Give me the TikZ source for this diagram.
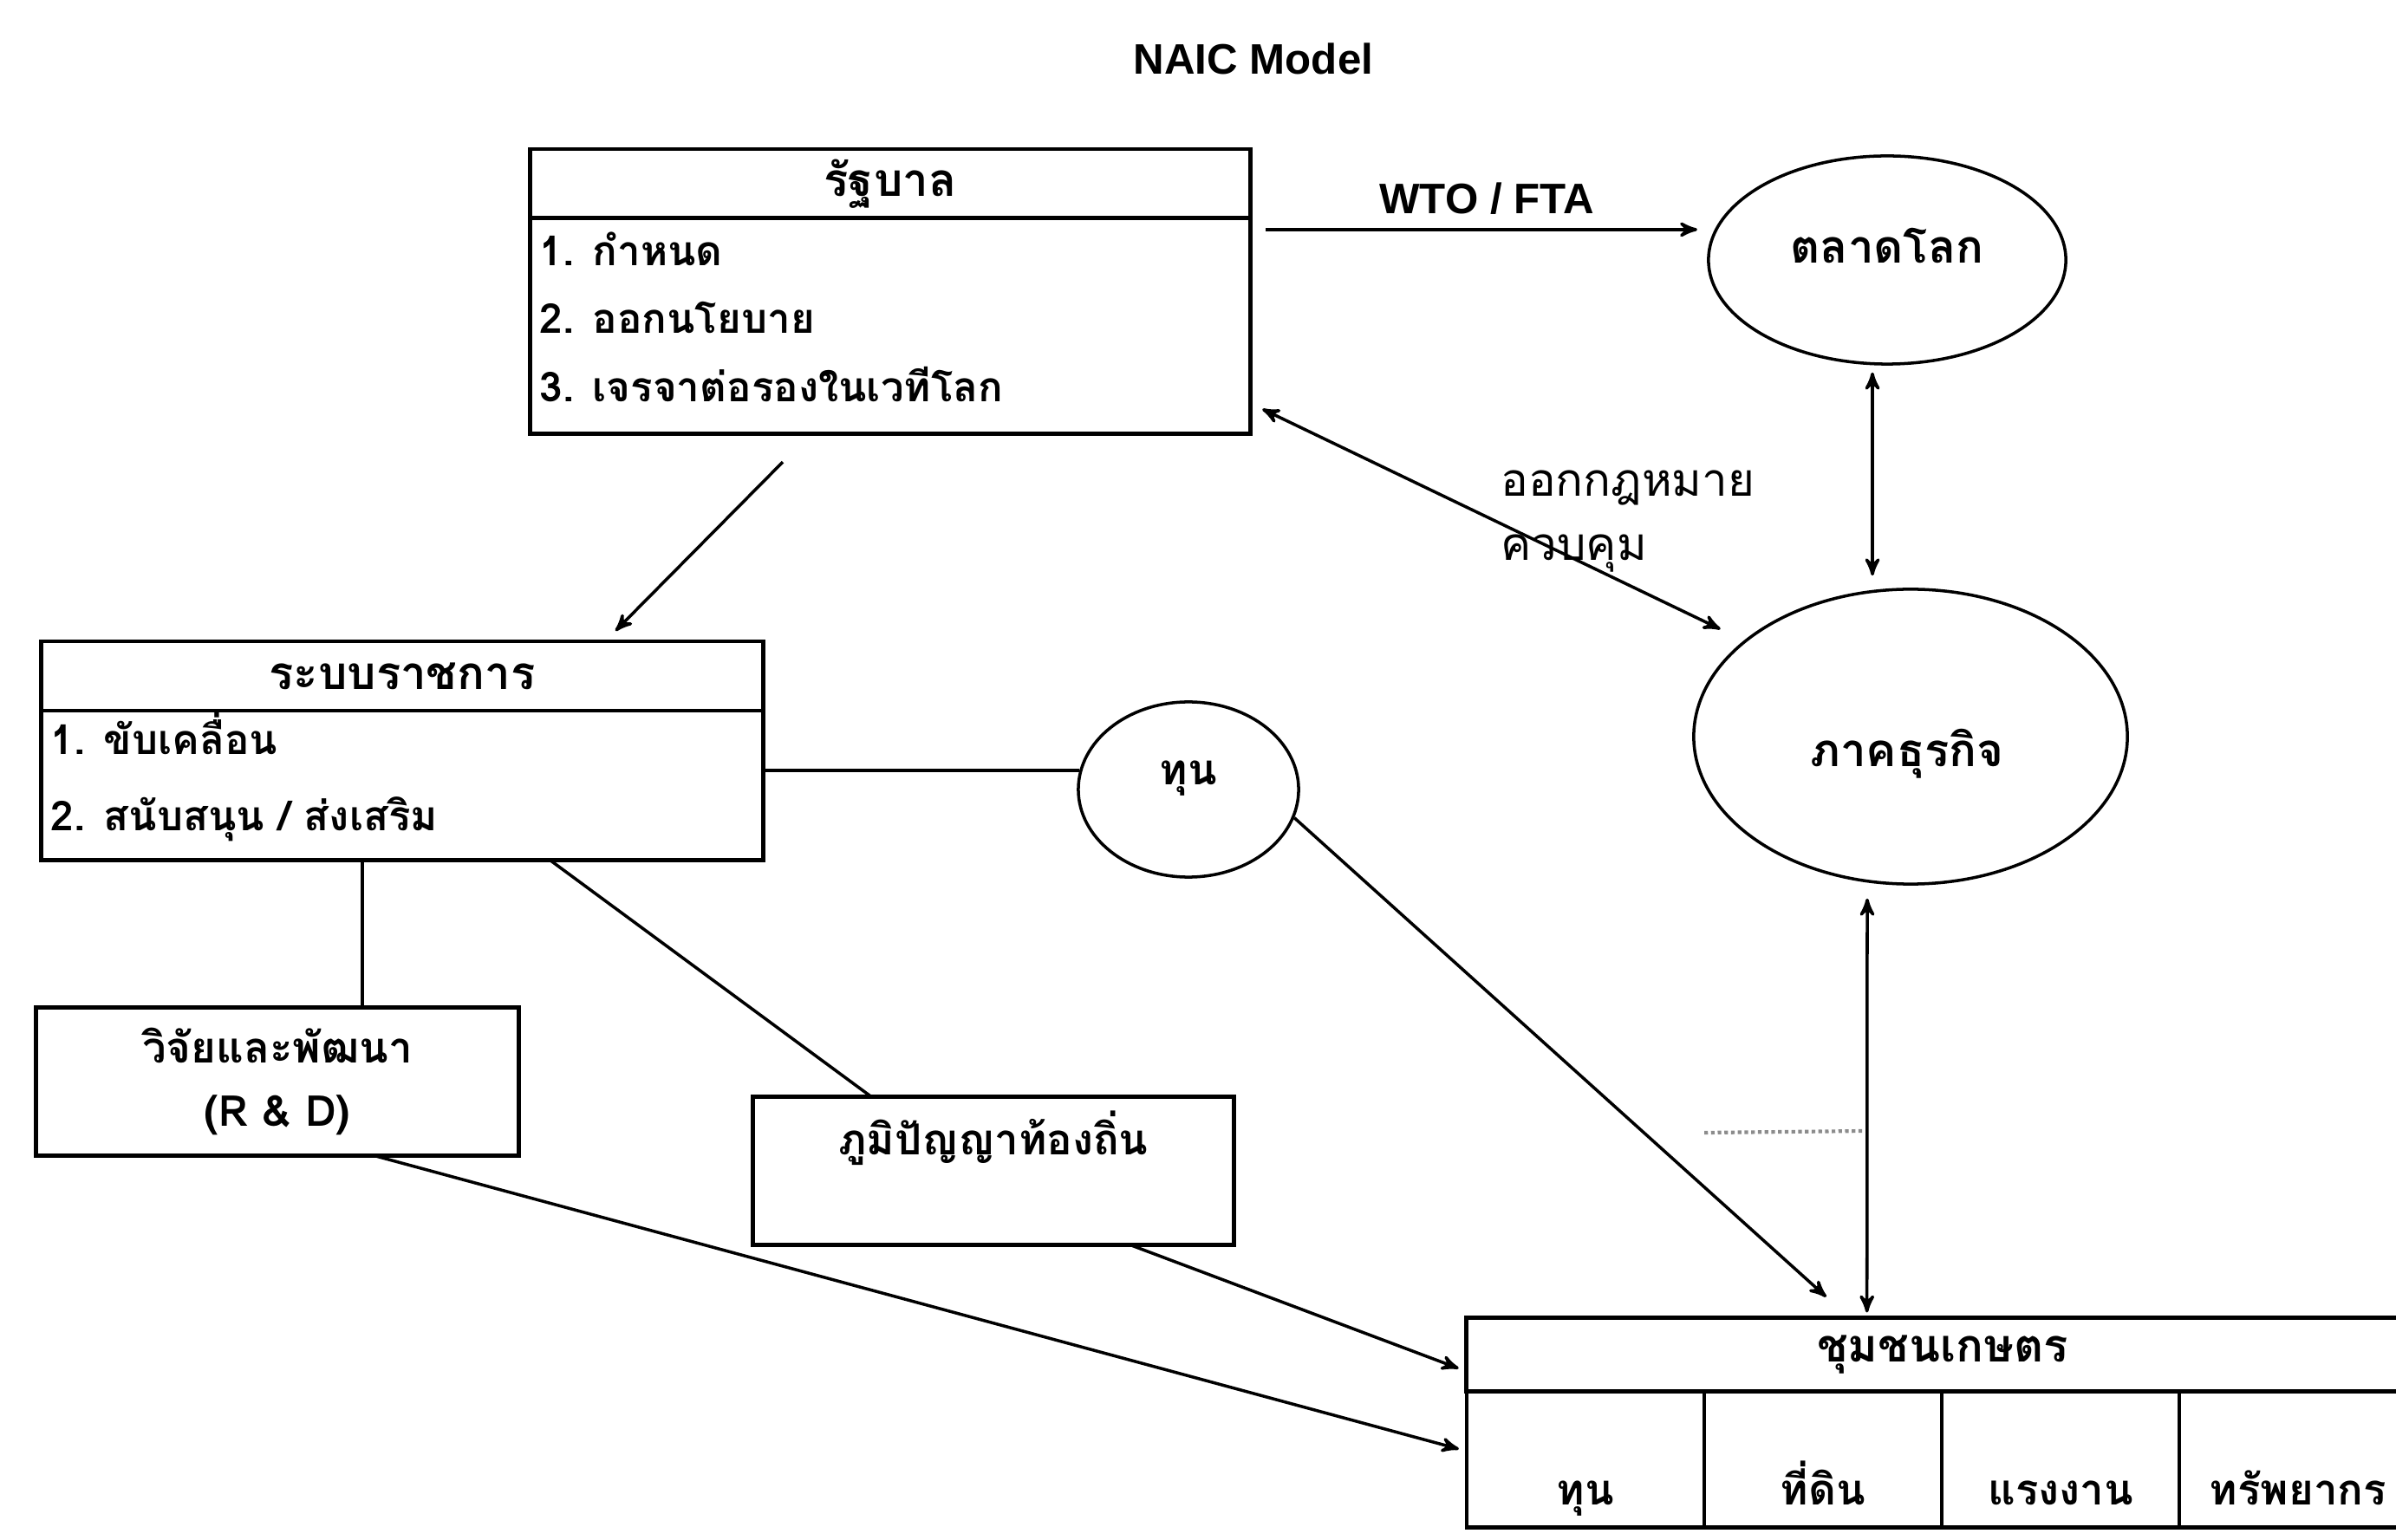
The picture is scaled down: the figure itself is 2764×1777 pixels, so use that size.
\documentclass[tikz,border=0pt]{standalone}
\usepackage{fontspec}
\setmainfont{Liberation Sans}
\newfontfamily\thaifont[Script=Thai]{Loma}
\usetikzlibrary{arrows,positioning,shapes.geometric,calc}
\tikzset{
    %Define standard arrow tip
    >=stealth',
    %Define style for boxes
    head/.style={
           rectangle,
           draw=black, line width=1.4pt,
           outer sep=0pt,
           minimum height=0.8cm,
           font=\thaifont\bfseries\fontsize{15}{18}\selectfont,
           text centered},
    body/.style={
           rectangle,
           draw=black, line width=1.4pt,
           outer sep=0pt,
           inner sep=0pt},
    cell/.style={
           rectangle,
           draw=black, line width=1.2pt,
           outer sep=0pt,
           minimum width=2.74cm,
           minimum height=1.57cm},
    oval/.style={
           ellipse,
           draw=black, line width=1pt,
           inner sep=0pt},
    thai/.style={
           font=\thaifont\bfseries\fontsize{14}{17}\selectfont},
    item/.style={
           font=\thaifont\bfseries\fontsize{13.5}{16}\selectfont,
           anchor=west,
           inner sep=0pt,
           text height=0.75em,
           text depth=0.25em},
    lbl/.style={
           font=\bfseries\fontsize{14}{16}\selectfont},
    % Define arrow style
    pil/.style={
           ->,
           line width=1pt},
    dpil/.style={
           <->,
           line width=1pt},
    lnk/.style={
           -,
           line width=1pt}
}

\begin{document}
\begin{tikzpicture}[x=0.01cm,y=-0.01cm]
\useasboundingbox (0,0) rectangle (2764,1777);
\clip (0,0) rectangle (2764,1777);
 %nodes
\node[lbl] (title) at (1446,68) {NAIC Model};
\node[head, minimum width=8.3cm, minimum height=0.79cm] (govhead) at (1027,212) {รัฐบาล};
\node[body, minimum width=8.3cm, minimum height=2.48cm, below=0pt of govhead] (gov) {};
\node[item] (gov1) at (622,298) {1. กำหนด};
\node[item] (gov2) at (622,376) {2. ออกนโยบาย};
\node[item] (gov3) at (622,455) {3. เจรจาต่อรองในเวทีโลก};
\node[oval, minimum width=4.12cm, minimum height=2.4cm] (market) at (2177,300) {};
\node[thai, font=\thaifont\bfseries\fontsize{15}{18}\selectfont] (markettext) at (2177,284) {ตลาดโลก};
\node[oval, minimum width=5cm, minimum height=3.4cm] (biz) at (2204,850) {};
\node[thai, font=\thaifont\bfseries\fontsize{15}{18}\selectfont] (biztext) at (2200,870) {ภาคธุรกิจ};
\node[head, minimum width=8.33cm] (burhead) at (464,780) {ระบบราชการ};
\node[body, minimum width=8.33cm, minimum height=1.72cm, below=0pt of burhead] (bur) {};
\node[item] (bur1) at (58,862) {1. ขับเคลื่อน};
\node[item] (bur2) at (58,950) {2. สนับสนุน / ส่งเสริม};
\node[oval, minimum width=2.54cm, minimum height=2.02cm] (tun) at (1371,911) {};
\node[thai] (tuntext) at (1371,898) {ทุน};
\node[body, minimum width=5.57cm, minimum height=1.71cm, font=\thaifont\bfseries\fontsize{14}{21}\selectfont, align=center] (rd) at (320,1248) {วิจัยและพัฒนา\\(R \& D)};
\node[body, minimum width=5.55cm, minimum height=1.71cm] (wis) at (1146,1351) {};
\node[thai] (wistext) at (1146,1313) {ภูมิปัญญาท้องถิ่น};
\node[head, minimum width=10.98cm, minimum height=0.85cm] (commhead) at (2241,1563) {ชุมชนเกษตร};
\foreach \t [count=\i] in {ทุน,ที่ดิน,แรงงาน,ทรัพยากร}{
  \node[cell] (c\i) at ({1829+(\i-1)*274},1684) {};
  \node[thai, anchor=base] (t\i) at ($(c\i)+(0,52)$) {\t};
}
\node[lbl] (wto) at (1715,229) {WTO / FTA};
\node[thai, align=left, anchor=west, font=\thaifont\fontsize{15}{21}\selectfont] (law) at (1719,602) {ออกกฎหมาย\\ควบคุม};
\coordinate (stray) at (1966,1307);
\coordinate (strayend) at (2150,1305);
 %connectors
\draw[pil, shorten <=0.18cm, shorten >=0.2cm] (gov.east |- market.170) -- (market.170);
\draw[dpil, shorten >=0.3cm] ($(gov.east)+(14,96)$) -- (biz.150);
\draw[pil] ($(gov.south)+(-124,33)$) -- ($(burhead.north)+(246,-12)$);
\draw[lnk] (bur.east |- tun.170) -- (tun.170);
\draw[pil] (tun.-15) -- ($(commhead.north west)+(415,-24)$);
\draw[dpil] ($(market.south)+(-17,8)$) -- ($(biz.north)+(-44,-14)$);
\draw[dpil] ($(biz.south)+(-50,15)$) -- ($(commhead.north west)+(462,-6)$);
\draw[lnk] ($(rd.north)+(98,0)$) -- ($(bur.south)+(-46,0)$);
\draw[lnk] ($(bur.south)+(170,0)$) -- ($(wis.north)+(-141,0)$);
\draw[pil] ($(rd.south)+(112,0)$) -- ($(c1.west)+(-9,-12)$);
\draw[pil] ($(wis.south)+(158,0)$) -- ($(commhead.west)+(-9,16)$);
\draw[densely dotted, black!45, line width=1.2pt] (stray) -- (strayend);
\end{tikzpicture}
\end{document}
